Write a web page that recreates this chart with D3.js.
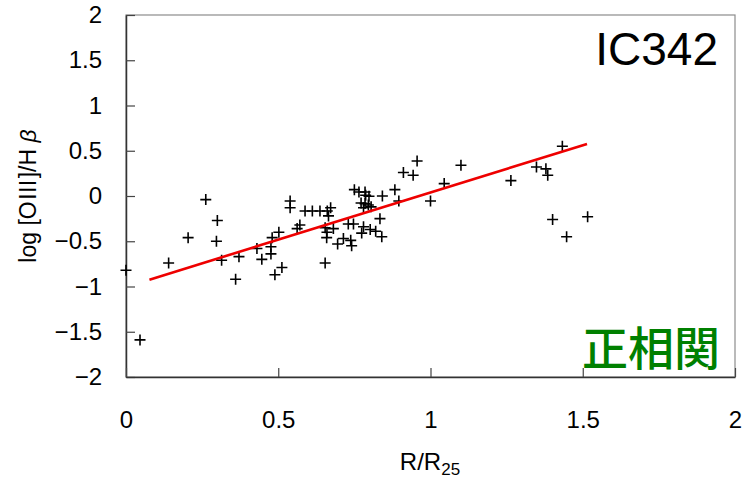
<!DOCTYPE html>
<html>
<head>
<meta charset="utf-8">
<script src="https://cdn.jsdelivr.net/npm/d3@7"></script>
<style>
  html, body { margin: 0; padding: 0; background: #fff; }
  svg { display: block; }
  .tick text { font-family: "Liberation Sans", Arial, sans-serif; font-size: 24px; fill: #000; }
</style>
</head>
<body>
<svg id="chart" width="744" height="485"></svg>
<script>
// Radial position (R/R25) of each HII region
const radius = [
  0.00, 0.046, 0.14, 0.204, 0.262, 0.297, 0.30, 0.314, 0.36, 0.371,
  0.43, 0.446, 0.476, 0.476, 0.48, 0.489, 0.502, 0.512, 0.539, 0.539,
  0.562, 0.571, 0.588, 0.612, 0.637, 0.661, 0.665, 0.654, 0.66, 0.654,
  0.672, 0.681, 0.659, 0.695, 0.714, 0.73, 0.747, 0.738, 0.741, 0.75,
  0.765, 0.785, 0.787, 0.798, 0.772, 0.785, 0.796, 0.78, 0.805, 0.774,
  0.78, 0.802, 0.82, 0.834, 0.84, 0.842, 0.883, 0.896, 0.911, 0.943,
  0.956, 1.0, 1.045, 1.10, 1.264, 1.348, 1.379, 1.385, 1.433, 1.401,
  1.447, 1.516
];
// log [OIII]/Hβ for each region
const logRatio = [
  -0.82, -1.59, -0.74, -0.46, -0.04, -0.50, -0.27, -0.71, -0.92, -0.67,
  -0.58, -0.70, -0.56, -0.64, -0.46, -0.87, -0.40, -0.79, -0.055, -0.13,
  -0.36, -0.32, -0.166, -0.166, -0.166, -0.166, -0.22, -0.35, -0.40, -0.74,
  -0.13, -0.36, -0.46, -0.53, -0.47, -0.31, -0.31, -0.49, -0.55, 0.07,
  0.044, 0.044, 0.008, -0.003, -0.077, -0.084, -0.10, -0.13, -0.12, -0.41,
  -0.34, -0.37, -0.39, -0.25, -0.45, 0.00, 0.07, -0.055, 0.26, 0.23,
  0.387, -0.055, 0.137, 0.34, 0.17, 0.32, 0.30, 0.23, 0.55, -0.26,
  -0.45, -0.23
];
// Linear fit: y = slope * x + intercept, drawn over this x range
const fitSlope = 1.044;
const fitIntercept = -1.005;
const fitRange = [0.077, 1.514];

const xTicks = [0, 0.5, 1, 1.5, 2];
const yTicks = [-2, -1.5, -1, -0.5, 0, 0.5, 1, 1.5, 2];

const svg = d3.select("#chart");
const x = d3.scaleLinear().domain([0, 2]).range([126, 735]);
const y = d3.scaleLinear().domain([-2, 2]).range([377, 15]);
const fmt = d3.format("~g");

// Frame: grey top and right edges
svg.append("rect")
  .attr("x", x(0)).attr("y", y(2))
  .attr("width", x(2) - x(0)).attr("height", y(-2) - y(2))
  .attr("fill", "none").attr("stroke", "#8c8c8c").attr("stroke-width", 1.2);

// Axes with inward ticks
const yAxis = svg.append("g")
  .attr("transform", `translate(${x(0)},0)`)
  .call(d3.axisLeft(y).tickValues(yTicks).tickFormat(fmt)
    .tickSizeInner(-9).tickSizeOuter(0).tickPadding(24));
const xAxis = svg.append("g")
  .attr("transform", `translate(0,${y(-2)})`)
  .call(d3.axisBottom(x).tickValues(xTicks).tickFormat(fmt)
    .tickSizeInner(-9).tickSizeOuter(0).tickPadding(43));
[yAxis, xAxis].forEach(g => {
  g.select(".domain").attr("stroke", "#333").attr("stroke-width", 1.5);
  g.selectAll(".tick line").attr("stroke", "#444").attr("stroke-width", 1.2);
});
xAxis.selectAll(".tick text").attr("dy", "0.35em");

// Data markers: plus signs
const data = radius.map((r, i) => ({ r, v: logRatio[i] }));
const arm = 5.5;
svg.append("g").selectAll("path")
  .data(data).join("path")
  .attr("d", d => `M${x(d.r) - arm},${y(d.v)}H${x(d.r) + arm}M${x(d.r)},${y(d.v) - arm}V${y(d.v) + arm}`)
  .attr("stroke", "#000").attr("stroke-width", 1.6).attr("fill", "none");

// Regression line
svg.append("line")
  .attr("x1", x(fitRange[0])).attr("y1", y(fitSlope * fitRange[0] + fitIntercept))
  .attr("x2", x(fitRange[1])).attr("y2", y(fitSlope * fitRange[1] + fitIntercept))
  .attr("stroke", "#ee0000").attr("stroke-width", 2.6);

// Galaxy name and correlation label
svg.append("text")
  .attr("x", 718).attr("y", 65).attr("text-anchor", "end")
  .style("font-family", "'Liberation Sans', Arial, sans-serif")
  .style("font-size", "46px").attr("fill", "#000")
  .text("IC342");
svg.append("text")
  .attr("x", 720).attr("y", 365).attr("text-anchor", "end")
  .style("font-family", "'Noto Sans CJK JP', sans-serif")
  .style("font-size", "46px").style("font-weight", 500).attr("fill", "#008000")
  .text("正相関");

// Axis titles
const xt = svg.append("text")
  .attr("x", 430).attr("y", 470).attr("text-anchor", "middle")
  .style("font-family", "'Liberation Sans', Arial, sans-serif")
  .style("font-size", "24px").attr("fill", "#000");
xt.append("tspan").text("R/R");
xt.append("tspan").attr("dy", 5).style("font-size", "17px").text("25");

const yt = svg.append("text")
  .attr("transform", "translate(36,196) rotate(-90)")
  .attr("text-anchor", "middle")
  .style("font-family", "'Liberation Sans', 'Noto Sans CJK JP', sans-serif")
  .style("font-size", "23px").attr("fill", "#000");
yt.append("tspan").text("log [OⅢ]/H ");
yt.append("tspan").style("font-style", "italic").text("β");
</script>
</body>
</html>
